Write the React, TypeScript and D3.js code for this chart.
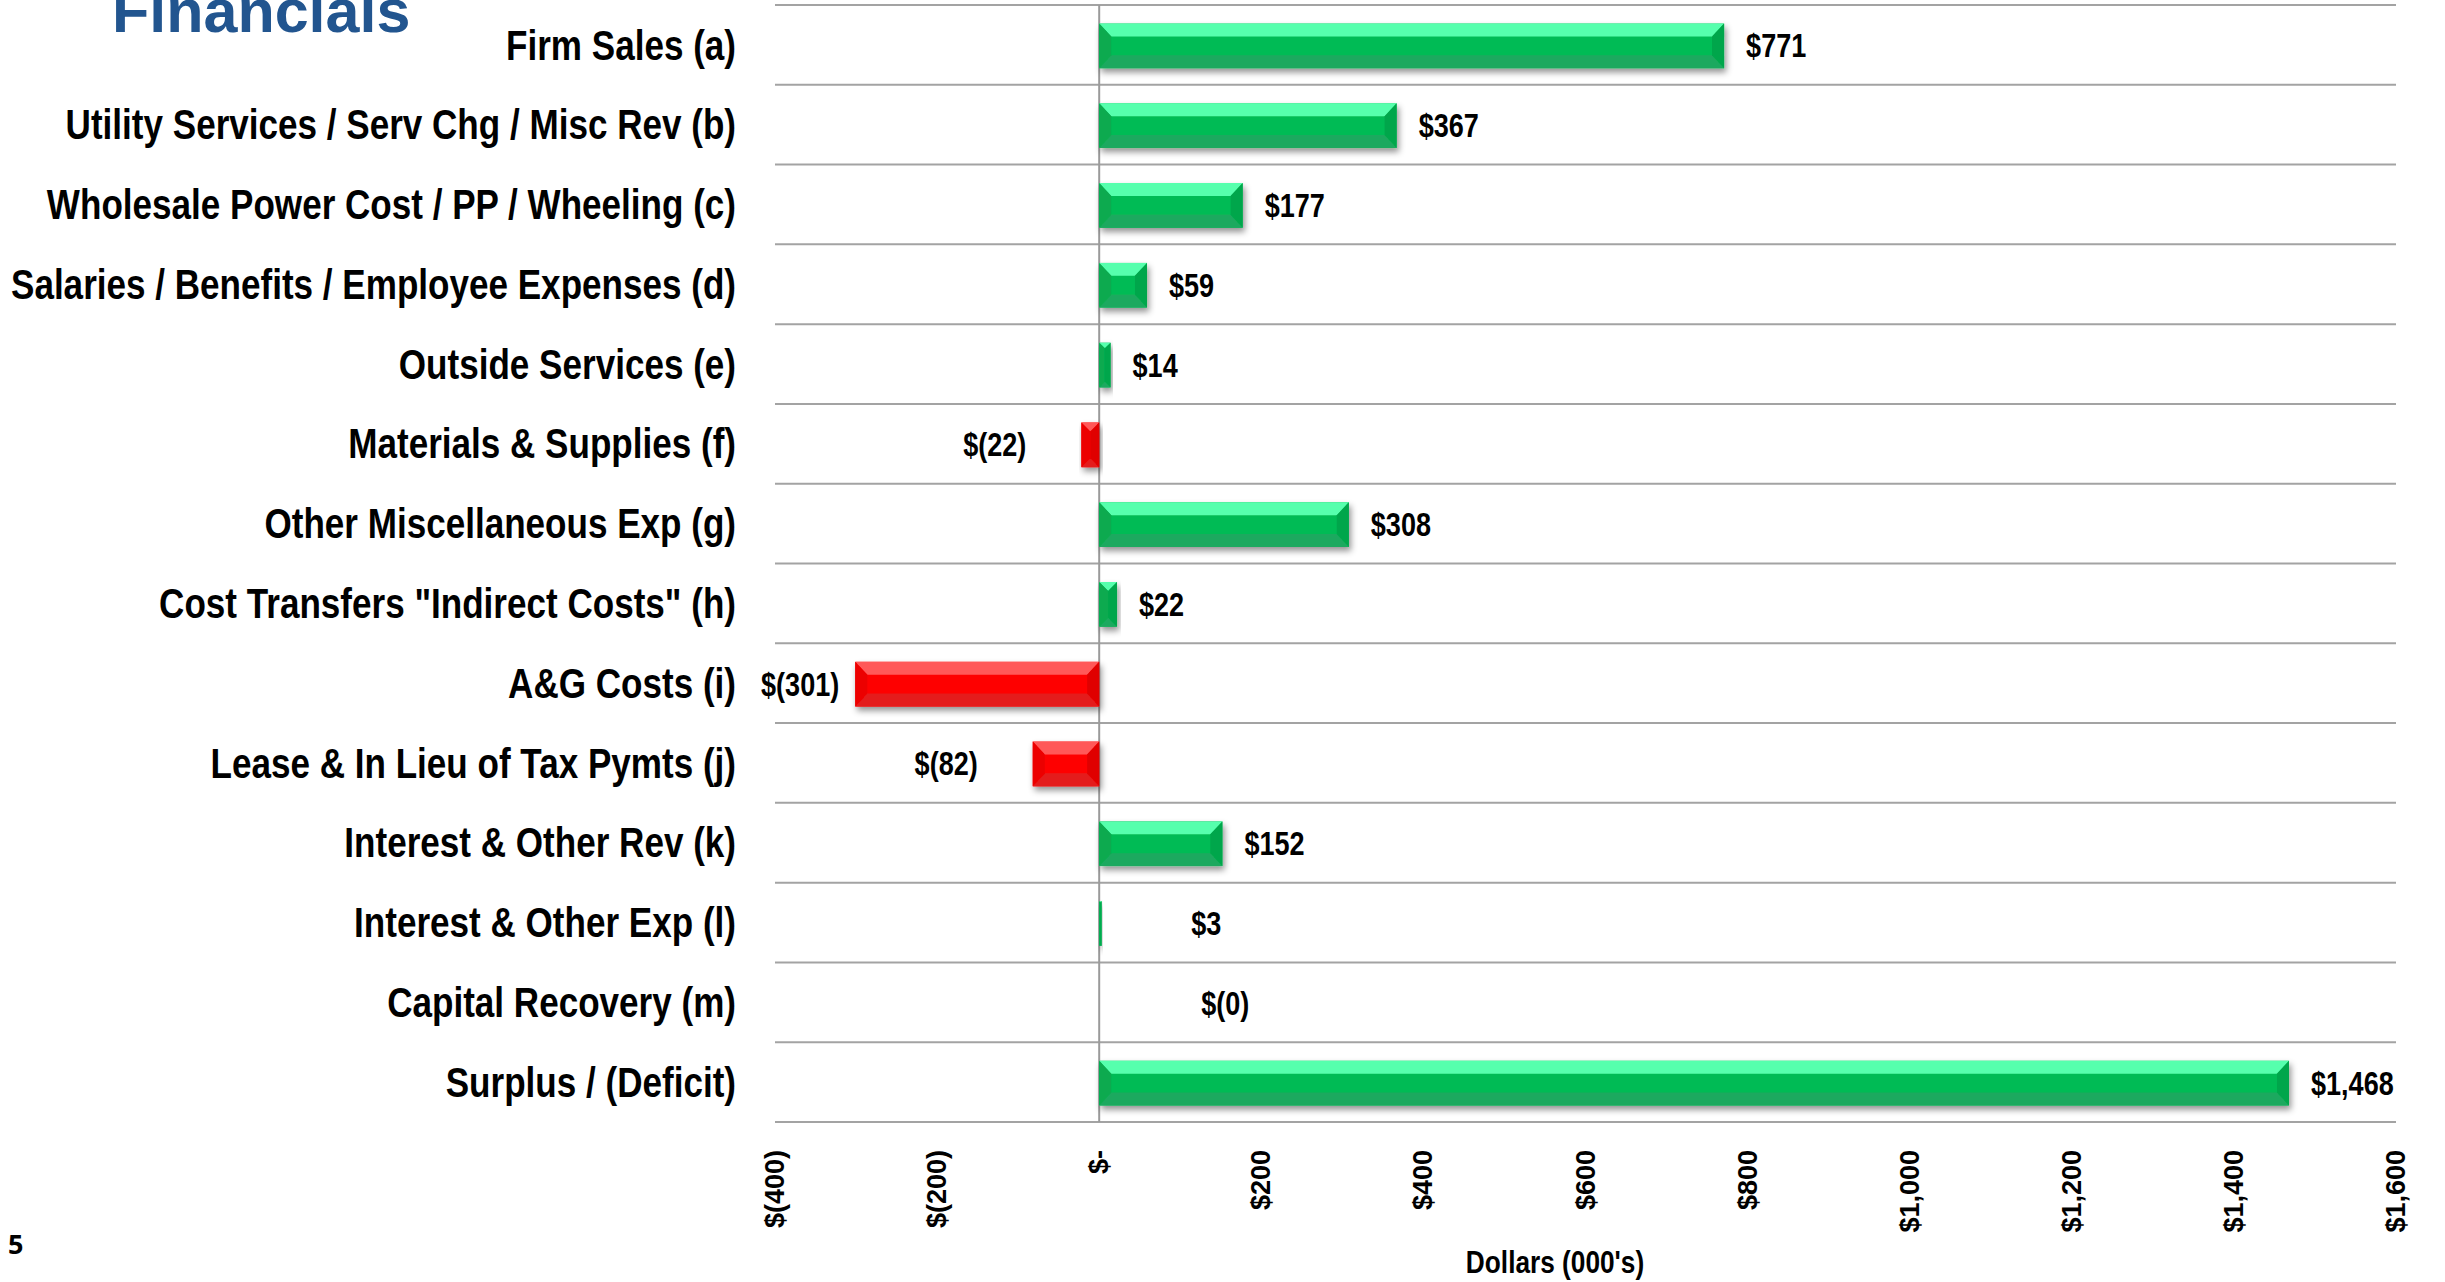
import React from "react";
import * as d3 from "d3";

// Variance by line item, dollars in thousands
const categories = [
  "Firm Sales (a)",
  "Utility Services / Serv Chg / Misc Rev (b)",
  "Wholesale Power Cost / PP / Wheeling (c)",
  "Salaries / Benefits / Employee Expenses (d)",
  "Outside Services (e)",
  "Materials & Supplies (f)",
  "Other Miscellaneous Exp (g)",
  'Cost Transfers "Indirect Costs" (h)',
  "A&G Costs (i)",
  "Lease & In Lieu of Tax Pymts (j)",
  "Interest & Other Rev (k)",
  "Interest & Other Exp (l)",
  "Capital Recovery (m)",
  "Surplus / (Deficit)",
];
const values = [771, 367, 177, 59, 14, -22, 308, 22, -301, -82, 152, 3, -0.2, 1468];
const tickValues = [-400, -200, 0, 200, 400, 600, 800, 1000, 1200, 1400, 1600];

const W = 2445;
const H = 1282;
const margin = { top: 5, right: 49, bottom: 160, left: 775 };

const ARIAL = '"Liberation Sans", Arial, sans-serif';

const GREEN = { main: "#06bb55", top: "#57ffad", bottom: "#1ca95e", left: "#08aa50", right: "#04a64c" };
const RED = { main: "#fe0404", top: "#ff5858", bottom: "#e41b1b", left: "#ec0202", right: "#e00000" };

const fmtNum = d3.format(",.0f");
const fmtTick = (v: number) => (v === 0 ? "$-" : v < 0 ? `$(${fmtNum(-v)})` : `$${fmtNum(v)}`);
const fmtValue = (v: number) => (v < 0 ? `$(${fmtNum(-v)})` : `$${fmtNum(v)}`);

// bold "narrow" text: Liberation Sans squeezed, so metrics stay close to Arial Narrow
function Narrow({ x, y, anchor = "start", size, squeeze = 0.82, baseline = "central", children }: any) {
  return (
    <text
      transform={`translate(${x},${y}) scale(${squeeze},1)`}
      textAnchor={anchor}
      dominantBaseline={baseline}
      fontFamily={ARIAL}
      fontWeight="bold"
      fontSize={size}
      fill="#000"
    >
      {children}
    </text>
  );
}

function BevelBar({ x0, x1, y0, y1, pal }: any) {
  const h = y1 - y0;
  const w = x1 - x0;
  const bt = Math.min(h * 0.29, w / 2);
  const bb = Math.min(h * 0.29, w / 2);
  const bs = Math.min(h * 0.27, w / 2);
  const pts = (p: number[][]) => p.map((d) => d.join(",")).join(" ");
  return (
    <g filter="url(#shadow)">
      <rect x={x0} y={y0} width={w} height={h} fill={pal.main} />
      <polygon points={pts([[x0, y0], [x1, y0], [x1 - bs, y0 + bt], [x0 + bs, y0 + bt]])} fill={pal.top} />
      <polygon points={pts([[x0, y1], [x1, y1], [x1 - bs, y1 - bb], [x0 + bs, y1 - bb]])} fill={pal.bottom} />
      <polygon points={pts([[x0, y0], [x0 + bs, y0 + bt], [x0 + bs, y1 - bb], [x0, y1]])} fill={pal.left} />
      <polygon points={pts([[x1, y0], [x1 - bs, y0 + bt], [x1 - bs, y1 - bb], [x1, y1]])} fill={pal.right} />
    </g>
  );
}

export default function App() {
  const innerBottom = H - margin.bottom;
  const x = d3.scaleLinear().domain([-400, 1600]).range([margin.left, W - margin.right]);
  const rows = d3.scaleBand().domain(categories).range([margin.top, innerBottom]);
  const y = d3
    .scaleBand()
    .domain(categories)
    .range([margin.top, innerBottom])
    .paddingInner(0.44)
    .paddingOuter(0.22);

  const gridYs = [...categories.map((c) => rows(c) as number), innerBottom];
  const zeroX = x(0);

  return (
    <svg
      width={W}
      height={H}
      style={{ position: "absolute", left: 0, top: 0, background: "#fff" }}
    >
      <defs>
        <filter id="shadow" x="-10%" y="-30%" width="130%" height="180%">
          <feDropShadow dx="2" dy="4" stdDeviation="3" floodColor="#000" floodOpacity="0.42" />
        </filter>
      </defs>
      <rect width={W} height={H} fill="#fff" />

      {/* title, cut off at the top of the slide */}
      <text x={112} y={32} fontFamily={ARIAL} fontWeight="bold" fontSize={61} fill="#22558f">
        Financials
      </text>

      {/* row separators */}
      {gridYs.map((gy, i) => (
        <line key={i} x1={x(-400)} x2={x(1600)} y1={gy} y2={gy} stroke="#a3a3a3" strokeWidth={2} />
      ))}
      <line x1={zeroX} x2={zeroX} y1={margin.top} y2={innerBottom} stroke="#9a9a9a" strokeWidth={2} />

      {/* bars */}
      {categories.map((c, i) => {
        const v = values[i];
        const y0 = (y(c) as number) + 1;
        const y1 = y0 + y.bandwidth();
        const xa = Math.min(x(v), zeroX);
        const xb = Math.max(x(v), zeroX);
        if (xb - xa < 0.8) return null;
        return <BevelBar key={c} x0={xa} x1={xb} y0={y0} y1={y1} pal={v < 0 ? RED : GREEN} />;
      })}

      {/* category labels */}
      {categories.map((c) => (
        <Narrow
          key={c}
          x={736}
          y={(rows(c) as number) + rows.bandwidth() / 2}
          anchor="end"
          size={42}
          squeeze={0.835}
        >
          {c}
        </Narrow>
      ))}

      {/* value labels */}
      {categories.map((c, i) => {
        const v = values[i];
        const label = fmtValue(v);
        const cy = (y(c) as number) + y.bandwidth() / 2 + 1;
        let lx: number;
        let anchor: string;
        if (Math.abs(v) < 5) {
          lx = zeroX + 92 + (v < 0 ? 10 : 0);
          anchor = "start";
        } else if (v > 0) {
          lx = x(v) + 22;
          anchor = "start";
        } else {
          const est = label.length * 0.4 * 32;
          lx = x(v) - 55 - est < margin.left - 15 ? x(v) - 16 : x(v) - 55;
          anchor = "end";
        }
        return (
          <Narrow key={c} x={lx} y={cy} anchor={anchor} size={33}>
            {label}
          </Narrow>
        );
      })}

      {/* x axis tick labels, rotated */}
      {tickValues.map((t) => (
        <text
          key={t}
          transform={`translate(${x(t)},1150) rotate(-90)`}
          textAnchor="end"
          dominantBaseline="central"
          fontFamily={ARIAL}
          fontWeight="bold"
          fontSize={27}
          fill="#000"
        >
          {fmtTick(t)}
        </text>
      ))}

      <Narrow x={1555} y={1273} anchor="middle" size={32} baseline="alphabetic">
        Dollars (000's)
      </Narrow>

      <text x={8} y={1254} fontFamily={'"Open Sans", ' + ARIAL} fontWeight="bold" fontSize={27} fill="#000">
        5
      </text>
    </svg>
  );
}
